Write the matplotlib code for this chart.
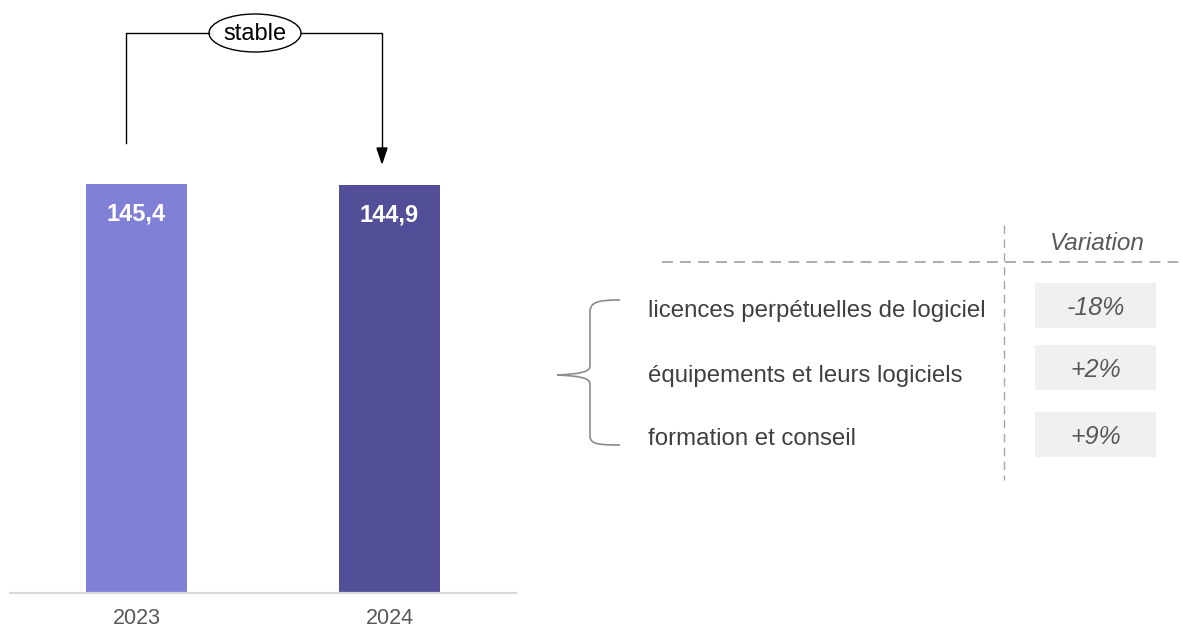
import matplotlib
matplotlib.use('Agg')
import matplotlib.pyplot as plt
from matplotlib.patches import Ellipse, Rectangle, PathPatch, Polygon
from matplotlib.path import Path

plt.rcParams['font.family'] = ['Liberation Sans', 'DejaVu Sans']

# data
years = ['2023', '2024']
values = [145.4, 144.9]
value_labels = ['145,4', '144,9']
bar_colors = ['#8080d6', '#524f98']
categories = ['licences perpétuelles de logiciel', 'équipements et leurs logiciels', 'formation et conseil']
variations = ['-18%', '+2%', '+9%']

W, H = 1183, 630
fig = plt.figure(figsize=(W / 100, H / 100), dpi=100, facecolor='w')

#----------------------- bars -----------------------
ax = fig.add_axes([10 / W, 37 / H, 506 / W, 593 / H])
x = list(range(len(years)))
ax.bar(x, values, width=0.4, color=bar_colors)
ax.set_xlim(-0.5, 1.5)
ax.set_ylim(0, values[0] * 593 / 409)
for i, v in enumerate(values):
    ax.annotate(value_labels[i], xy=(i, v), xytext=(0, -21.5), textcoords='offset points',
                ha='center', va='center', color='white', fontsize=17, fontweight='bold')
ax.set_xticks(x)
ax.set_xticklabels(years, fontsize=15.5, color='#595959')
ax.tick_params(axis='x', length=0, pad=11)
ax.set_yticks([])
for s in ['top', 'right', 'left']:
    ax.spines[s].set_visible(False)
ax.spines['bottom'].set_color('#d9d9d9')
ax.spines['bottom'].set_linewidth(1.6)

#----------------------- overlay (pixel coords) -----------------------
ov = fig.add_axes([0, 0, 1, 1], facecolor='none')
ov.set_xlim(0, W)
ov.set_ylim(H, 0)
ov.axis('off')

# "stable" connector
ov.plot([126, 126, 209], [143, 33, 33], color='black', lw=1)
ov.plot([301, 382, 382], [33, 33, 150], color='black', lw=1)
ov.add_patch(Polygon([(377, 148), (387, 148), (382, 163)], closed=True, color='black'))
ov.add_patch(Ellipse((255, 33), 92, 38, facecolor='white', edgecolor='black', lw=1))
ov.text(255, 34, 'stable', ha='center', va='center', fontsize=17, color='black')

# table lines
ov.plot([662, W], [262, 262], color='#a6a6a6', lw=1.3, dashes=(6, 4))
ov.plot([1004, 1004], [225, 480], color='#a6a6a6', lw=1, dashes=(6, 4))
ov.text(1097, 243, 'Variation', ha='center', va='center', fontsize=17.5, style='italic', color='#595959')

box_y = [305.5, 367.5, 434.5]
label_y = [311, 376, 439]
for i, cat in enumerate(categories):
    ov.text(648, label_y[i], cat, ha='left', va='center', fontsize=17.3, color='#404040')
    ov.add_patch(Rectangle((1035, box_y[i] - 22.5), 121, 45, facecolor='#f0f0f0', edgecolor='none'))
    ov.text(1096, box_y[i] + 2.5, variations[i], ha='center', va='center', fontsize=18,
            style='italic', color='#595959')

# brace
verts = [(620, 300), (598, 300), (590, 302), (590, 312),
         (590, 366), (590, 372), (580, 374), (557, 375),
         (580, 376), (590, 378), (590, 384),
         (590, 436), (590, 444), (598, 445), (620, 445)]
codes = [Path.MOVETO, Path.CURVE4, Path.CURVE4, Path.CURVE4,
         Path.LINETO, Path.CURVE4, Path.CURVE4, Path.CURVE4,
         Path.CURVE4, Path.CURVE4, Path.CURVE4,
         Path.LINETO, Path.CURVE4, Path.CURVE4, Path.CURVE4]
ov.add_patch(PathPatch(Path(verts, codes), facecolor='none', edgecolor='#8c8c8c', lw=1.2))

plt.savefig('out.png', dpi=100, facecolor='w')
